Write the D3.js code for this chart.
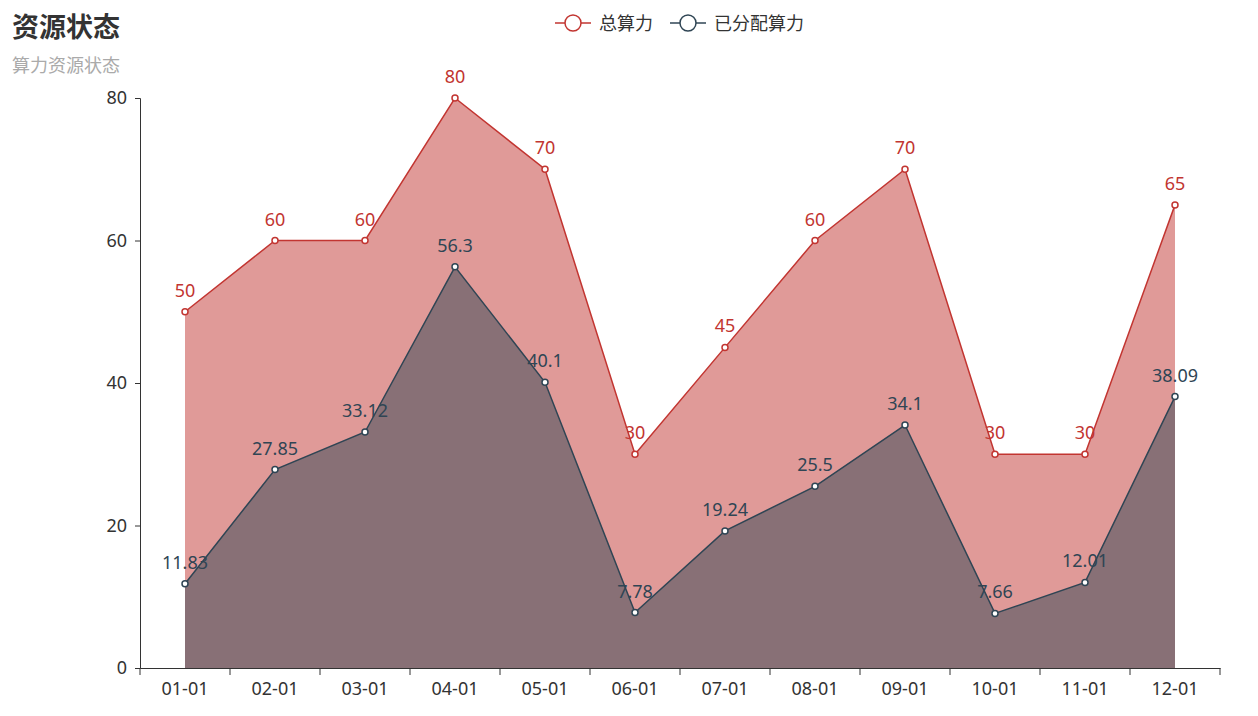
<!DOCTYPE html>
<html><head><meta charset="utf-8">
<script src="https://cdn.jsdelivr.net/npm/d3@7/dist/d3.min.js"></script>
<style>body{margin:0;background:#fff;font-family:"Microsoft YaHei","Noto Sans CJK SC",sans-serif;}</style>
</head><body><svg id="c" width="1258" height="716"></svg>
<script>
const categories = ["01-01","02-01","03-01","04-01","05-01","06-01","07-01","08-01","09-01","10-01","11-01","12-01"];
const totalValues = [50,60,60,80,70,30,45,60,70,30,30,65];
const allocValues = [11.83,27.85,33.12,56.3,40.1,7.78,19.24,25.5,34.1,7.66,12.01,38.09];
const yTicks = [0,20,40,60,80];
const seriesNames = ["总算力","已分配算力"];
const colors = ["#c23531","#2f4554"];

(function(){
const svg = d3.select("#c");
const font = '"Noto Sans", "Noto Sans CJK SC", sans-serif';
const pLeft=140, pRight=1220, pTop=98, pBottom=668;
const x = d3.scaleBand().domain(categories).range([pLeft,pRight]);
const y = d3.scaleLinear().domain([0,80]).range([pBottom,pTop]);
const cx = d => x(d) + x.bandwidth()/2;

// title
svg.append("text").attr("x",12).attr("y",37).attr("font-size",27).attr("font-weight","bold")
  .attr("fill","#333").attr("font-family",font).text("资源状态");
svg.append("text").attr("x",12).attr("y",72).attr("font-size",18)
  .attr("fill","#aaa").attr("font-family",font).text("算力资源状态");

// legend
const legendItems = [{name:seriesNames[0],color:colors[0],x:555},{name:seriesNames[1],color:colors[1],x:670}];
legendItems.forEach(it=>{
  const g = svg.append("g");
  g.append("line").attr("x1",it.x).attr("x2",it.x+36).attr("y1",23).attr("y2",23).attr("stroke",it.color).attr("stroke-width",1.5);
  g.append("circle").attr("cx",it.x+18).attr("cy",23).attr("r",8).attr("fill","#fff").attr("stroke",it.color).attr("stroke-width",1.5);
  g.append("text").attr("x",it.x+44).attr("y",29.5).attr("font-size",18).attr("fill","#333").attr("font-family",font).text(it.name);
});

// axes
const yAxis = svg.append("g").attr("transform",`translate(${pLeft},0)`)
  .call(d3.axisLeft(y).tickValues(yTicks).tickSize(5).tickPadding(8));
yAxis.select(".domain").attr("stroke","#333");
yAxis.selectAll("line").attr("stroke","#333");
yAxis.selectAll("text").attr("font-size",18).attr("fill","#333").attr("font-family",font);

const xAxis = svg.append("g").attr("transform",`translate(0,${pBottom})`)
  .call(d3.axisBottom(x).tickSize(0).tickPadding(14));
xAxis.select(".domain").attr("stroke","#333");
xAxis.selectAll("text").attr("font-size",18).attr("fill","#333").attr("font-family",font);
const bounds = categories.map(c=>x(c)).concat([pRight]);
xAxis.selectAll(".bt").data(bounds).enter().append("line").attr("x1",d=>d).attr("x2",d=>d).attr("y1",0).attr("y2",7).attr("stroke","#333");

const series = [totalValues, allocValues];
series.forEach((vals,i)=>{
  const data = categories.map((c,j)=>({c,v:vals[j]}));
  const area = d3.area().x(d=>cx(d.c)).y0(y(0)).y1(d=>y(d.v));
  const line = d3.line().x(d=>cx(d.c)).y(d=>y(d.v));
  svg.append("path").datum(data).attr("d",area).attr("fill",colors[i]).attr("fill-opacity",0.5);
  svg.append("path").datum(data).attr("d",line).attr("fill","none").attr("stroke",colors[i]).attr("stroke-width",1.5);
  svg.append("g").selectAll("circle").data(data).enter().append("circle")
    .attr("cx",d=>cx(d.c)).attr("cy",d=>y(d.v)).attr("r",3).attr("fill","#fff").attr("stroke",colors[i]).attr("stroke-width",1.5);
  svg.append("g").selectAll("text").data(data).enter().append("text")
    .attr("x",d=>cx(d.c)).attr("y",d=>y(d.v)-15).attr("text-anchor","middle")
    .attr("font-size",18).attr("fill",colors[i]).attr("font-family",font).text(d=>d.v);
});
})();
</script></body></html>
